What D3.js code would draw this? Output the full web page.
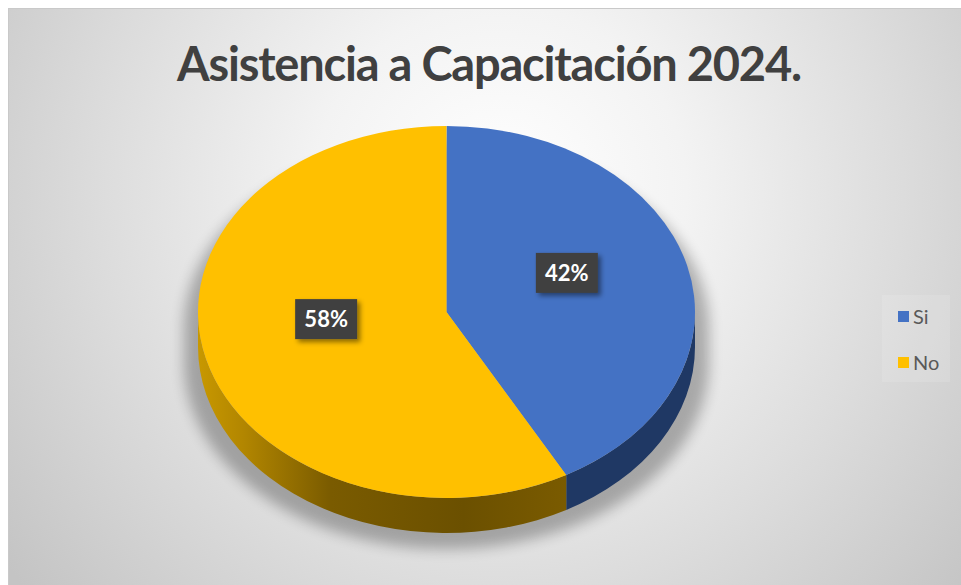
<!DOCTYPE html>
<html><head><meta charset="utf-8">
<script src="https://cdn.jsdelivr.net/npm/d3@7"></script>
<style>html,body{margin:0;padding:0;background:#fff;} svg{display:block}</style>
</head><body><svg id="c" width="961" height="585"></svg>
<script>
// ---- data ----
const categories = ["Si", "No"];
const values = [42, 58];
const labelTexts = ["42%", "58%"];
const colors = ["#4472C4", "#FFC000"];
const sideColors = ["#1f3864", "url(#sideYellow)"];
const title = "Asistencia a Capacitación 2024.";

// ---- layout ----
const W = 961, H = 585;
const svg = d3.select("#c");
const defs = svg.append("defs");

const bg = defs.append("radialGradient").attr("id", "bg")
  .attr("gradientUnits", "userSpaceOnUse").attr("cx", 500).attr("cy", 190).attr("r", 620);
[[0, "#ffffff"], [0.3, "#f3f3f3"], [0.65, "#dcdcdc"], [1, "#c4c4c4"]]
  .forEach(([o, c]) => bg.append("stop").attr("offset", o).attr("stop-color", c));

const sy = defs.append("linearGradient").attr("id", "sideYellow")
  .attr("gradientUnits", "userSpaceOnUse").attr("x1", 198).attr("x2", 577).attr("y1", 0).attr("y2", 0);
[[0, "#c89800"], [0.12, "#b28600"], [0.35, "#7a5b00"], [0.7, "#6b5000"], [1, "#7c5c00"]]
  .forEach(([o, c]) => sy.append("stop").attr("offset", o).attr("stop-color", c));

const blur = defs.append("filter").attr("id", "shadow").attr("x", "-20%").attr("y", "-20%").attr("width", "140%").attr("height", "140%");
blur.append("feGaussianBlur").attr("stdDeviation", 7);

const ds = defs.append("filter").attr("id", "lblShadow").attr("x", "-30%").attr("y", "-30%").attr("width", "170%").attr("height", "170%");
ds.append("feDropShadow").attr("dx", 3).attr("dy", 3).attr("stdDeviation", 2.5)
  .attr("flood-color", "#000").attr("flood-opacity", 0.45);

// background frame
svg.append("rect").attr("x", 8.5).attr("y", 8.5).attr("width", W - 8).attr("height", H - 8)
  .attr("fill", "url(#bg)").attr("stroke", "#c9c9c9").attr("stroke-width", 1);

// title
svg.append("text").attr("x", 489).attr("y", 81).attr("text-anchor", "middle")
  .attr("font-family", "Lato, 'Open Sans', sans-serif").attr("font-weight", 700)
  .attr("font-size", 47).attr("letter-spacing", -1.2).attr("fill", "#404040").text(title);

// ---- pie geometry through scales ----
const xS = d3.scaleLinear().domain([-1, 1]).range([198, 695]);
const yS = d3.scaleLinear().domain([-1, 1]).range([126, 498]);
const depth = 35;
const rx = (xS(1) - xS(-1)) / 2, ry = (yS(1) - yS(-1)) / 2;
const cx = xS(0), cy = yS(0);
const pt = (a, f = 1, dy = 0) => [xS(f * Math.sin(a)), yS(-f * Math.cos(a)) + dy];

const arcs = d3.pie().sort(null).startAngle(0).endAngle(2 * Math.PI)(values);

// shadow (silhouette offset down and widened)
const srx = rx + 14, sdy = 16;
svg.append("path")
  .attr("d", `M${cx - srx},${cy + sdy} A${srx},${ry} 0 0 1 ${cx + srx},${cy + sdy} L${cx + srx},${cy + sdy + depth} A${srx},${ry} 0 0 1 ${cx - srx},${cy + sdy + depth} Z`)
  .attr("fill", "#000").attr("opacity", 0.28).attr("filter", "url(#shadow)");

// side walls (front half: angles PI/2 .. 3PI/2)
arcs.forEach((d, i) => {
  const s = Math.max(d.startAngle, Math.PI / 2), e = Math.min(d.endAngle, 3 * Math.PI / 2);
  if (e <= s) return;
  const p0 = pt(s), p1 = pt(e), q1 = pt(e, 1, depth), q0 = pt(s, 1, depth);
  const large = (e - s) > Math.PI ? 1 : 0;
  svg.append("path")
    .attr("d", `M${p0} A${rx},${ry} 0 ${large} 1 ${p1} L${q1} A${rx},${ry} 0 ${large} 0 ${q0} Z`)
    .attr("fill", sideColors[i]);
});

// top faces
arcs.forEach((d, i) => {
  const p0 = pt(d.startAngle), p1 = pt(d.endAngle);
  const large = (d.endAngle - d.startAngle) > Math.PI ? 1 : 0;
  svg.append("path")
    .attr("d", `M${cx},${cy} L${p0} A${rx},${ry} 0 ${large} 1 ${p1} Z`)
    .attr("fill", colors[i]);
});

// data labels
arcs.forEach((d, i) => {
  const mid = (d.startAngle + d.endAngle) / 2;
  const [lx, ly0] = pt(mid, 0.5);
  const ly = ly0 - 16;
  const g = svg.append("g").attr("transform", `translate(${lx},${ly})`);
  const bw = 62, bh = 40;
  g.append("rect").attr("x", -bw / 2).attr("y", -bh / 2).attr("width", bw).attr("height", bh)
    .attr("fill", "#404040").attr("filter", "url(#lblShadow)");
  g.append("text").attr("text-anchor", "middle").attr("y", 8)
    .attr("font-family", "Lato, 'Open Sans', sans-serif").attr("font-weight", 700)
    .attr("font-size", 22).attr("fill", "#ffffff").text(labelTexts[i]);
});

// legend
const lg = svg.append("g");
lg.append("rect").attr("x", 882).attr("y", 295).attr("width", 68).attr("height", 87)
  .attr("fill", "#ffffff").attr("opacity", 0.12);
const ly = d3.scalePoint().domain(categories).range([317, 363]);
categories.forEach((c, i) => {
  lg.append("rect").attr("x", 898).attr("y", ly(c) - 6).attr("width", 11).attr("height", 11).attr("fill", colors[i]);
  lg.append("text").attr("x", 913).attr("y", ly(c) + 7)
    .attr("font-family", "Lato, 'Open Sans', sans-serif").attr("font-size", 20).attr("fill", "#595959").text(c);
});
</script></body></html>
